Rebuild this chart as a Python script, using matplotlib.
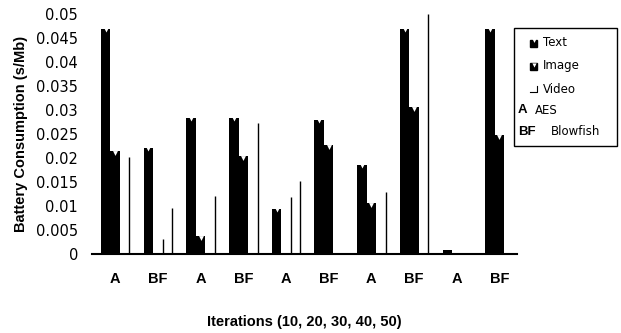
import matplotlib
matplotlib.use("Agg")
import matplotlib.pyplot as plt
import matplotlib.transforms as mtransforms
from matplotlib.patches import Rectangle
from matplotlib.lines import Line2D
import numpy as np

# data
group_labels = ['A', 'BF', 'A', 'BF', 'A', 'BF', 'A', 'BF', 'A', 'BF']
text_vals = [0.0468, 0.0221, 0.0283, 0.0283, 0.0094, 0.0279, 0.0185, 0.0469, 0.0008, 0.0468]
image_vals = [0.0215, 0.0031, 0.0037, 0.0204, 0.0119, 0.0227, 0.0106, 0.0306, 0.0, 0.0248]
video_vals = [0.0203, 0.0096, 0.0121, 0.0273, 0.0152, 0.0, 0.0129, 0.0499, 0.0, 0.0]
yticks = [0, 0.005, 0.01, 0.015, 0.02, 0.025, 0.03, 0.035, 0.04, 0.045, 0.05]

# image bars that the original rendered hollow (white with right edge)
image_hollow = [False, True, False, False, True, False, False, False, False, False]

W = 0.222
x = np.arange(len(group_labels))

fig = plt.figure(figsize=(6.21, 3.33), dpi=100)
ax = fig.add_axes([0.148, 0.237, 0.6845, 0.721])

# text bars
ax.bar(x - W, text_vals, W, color='black', linewidth=0)
# image bars
img_face = ['white' if h else 'black' for h in image_hollow]
ax.bar(x, image_vals, W, color=img_face, linewidth=0)
for xi, v, h in zip(x, image_vals, image_hollow):
    if h and v > 0:
        ax.vlines(xi + W / 2, 0, v, color='black', linewidth=1.0)
# video bars: white with a thin right edge
ax.bar(x + W, video_vals, W, color='white', linewidth=0)
for xi, v in zip(x, video_vals):
    if v > 0:
        ax.vlines(xi + W * 1.5, 0, v, color='black', linewidth=1.0)

# little white notches on top of the solid bars
tv = np.array(text_vals)
big = tv > 0.002
ax.plot((x - W)[big], tv[big], 'v', color='white', ms=5, mec='none')
iv = np.array(image_vals)
solid = (iv > 0.002) & ~np.array(image_hollow)
off = mtransforms.offset_copy(ax.transData, fig=fig, y=-2, units='dots')
ax.plot(x[solid], iv[solid], 'v', color='white', ms=3.5, mec='none', transform=off)

ax.set_xlim(-0.546, 9.41)
ax.set_ylim(0, 0.05)
ax.set_yticks(yticks)
ax.set_yticklabels(['0' if t == 0 else f'{t:g}' for t in yticks], fontsize=10.5)
ax.set_xticks(x)
ax.set_xticklabels(group_labels, fontsize=10.5, fontweight='bold', family='Liberation Sans')
ax.tick_params(axis='both', length=0)
ax.tick_params(axis='y', pad=10)
ax.tick_params(axis='x', pad=13)

for s in ['top', 'right', 'left']:
    ax.spines[s].set_visible(False)
ax.spines['bottom'].set_linewidth(1.5)

ax.set_ylabel('Battery Consumption (s/Mb)', fontsize=10.5, fontweight='bold',
              family='Liberation Sans', labelpad=6)
ax.set_xlabel('Iterations (10, 20, 30, 40, 50)', fontsize=10.5, fontweight='bold',
              family='Liberation Sans', labelpad=21)

# legend drawn by hand (box in figure pixels)
def fx(px):
    return px / 621.0

def fy(py):
    return 1 - py / 333.0

fig.patches.append(Rectangle((fx(514), fy(146)), fx(617) - fx(514), fy(28) - fy(146),
                             transform=fig.transFigure, facecolor='white',
                             edgecolor='black', linewidth=1.0))
rows = [43, 66, 89, 110, 132]
lf = dict(fontsize=8.5, va='center', ha='left', transform=fig.transFigure)
# Text marker
fig.patches.append(Rectangle((fx(530), fy(rows[0] + 3.5)), fx(7), 7 / 333.0,
                             transform=fig.transFigure, color='black'))
fig.lines.append(Line2D([fx(533.5)], [fy(rows[0] - 3.5)], marker='v', ms=3.5,
                        color='white', mec='none', transform=fig.transFigure))
fig.text(fx(543), fy(rows[0]), 'Text', **lf)
# Image marker
fig.patches.append(Rectangle((fx(530), fy(rows[1] + 3.5)), fx(7), 7 / 333.0,
                             transform=fig.transFigure, color='black'))
fig.lines.append(Line2D([fx(533.5)], [fy(rows[1] - 1.5)], marker='v', ms=3,
                        color='white', mec='none', transform=fig.transFigure))
fig.text(fx(543), fy(rows[1]), 'Image', **lf)
# Video marker
fig.lines.append(Line2D([fx(530), fx(537), fx(537)], [fy(rows[2] + 3), fy(rows[2] + 3), fy(rows[2] - 3)],
                        color='black', linewidth=0.8, transform=fig.transFigure))
fig.text(fx(543), fy(rows[2]), 'Video', **lf)
bf = dict(lf, fontsize=9.5)
fig.text(fx(518), fy(rows[3]), 'A', fontweight='bold', family='Liberation Sans', **bf)
fig.text(fx(535), fy(rows[3]), 'AES', **lf)
fig.text(fx(518), fy(rows[4]), 'BF', fontweight='bold', family='Liberation Sans', **bf)
fig.text(fx(551), fy(rows[4]), 'Blowfish', **lf)

fig.savefig('out.png', dpi=100)
